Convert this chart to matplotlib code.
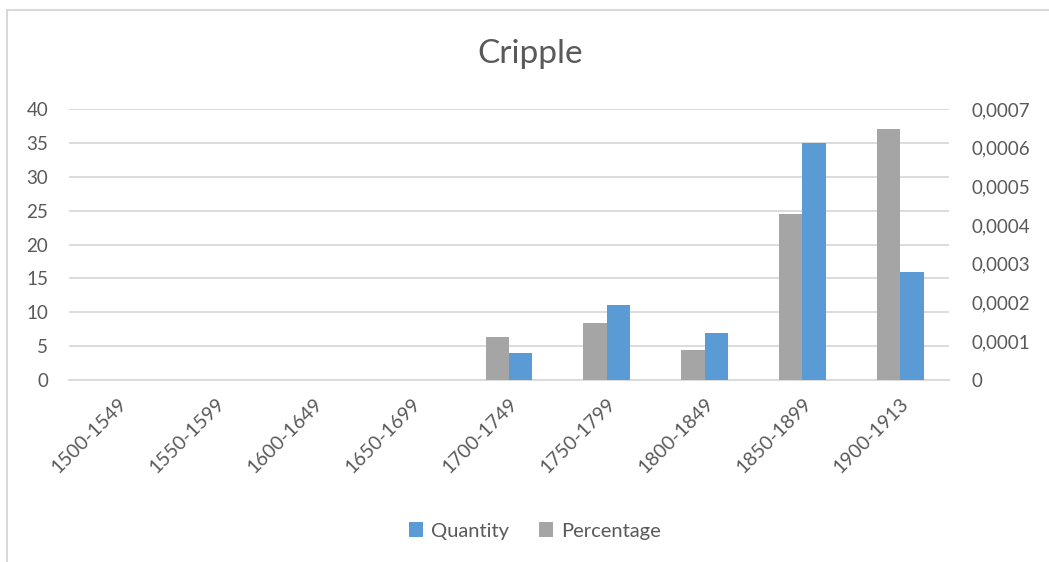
import numpy as np
import matplotlib
matplotlib.use('Agg')
import matplotlib.pyplot as plt
from matplotlib.patches import Rectangle
from matplotlib.ticker import FuncFormatter, MultipleLocator

periods = ['1500-1549', '1550-1599', '1600-1649', '1650-1699', '1700-1749',
           '1750-1799', '1800-1849', '1850-1899', '1900-1913']
quantity = [0, 0, 0, 0, 4, 11, 7, 35, 16]
percentage = [0, 0, 0, 0, 0.000112, 0.000147, 0.0000765, 0.000428, 0.000648]

BLUE = '#5B9BD5'
GREY = '#A5A5A5'
TEXT = '#595959'
GRID = '#D9D9D9'

plt.rcParams['font.family'] = ['Lato', 'DejaVu Sans']

W, H = 1049, 562
fig = plt.figure(figsize=(W / 100, H / 100), dpi=100)

# light chart frame, cut off at right and bottom edges
fig.patches.append(Rectangle((7 / W, -0.1), 1.2, 1 - 10 / H + 0.1,
                             transform=fig.transFigure, fill=False,
                             edgecolor=GRID, linewidth=1.5))

ax = fig.add_axes([69 / W, 1 - 380 / H, 880 / W, 271 / H])
ax2 = ax.twinx()

x = np.arange(len(periods))
bw = 0.24
ax.bar(x + bw / 2, quantity, bw, color=BLUE, label='Quantity', zorder=3)
ax2.bar(x - bw / 2, percentage, bw, color=GREY, label='Percentage', zorder=3)

ax.set_xlim(-0.5, len(periods) - 0.5)
ax.set_ylim(0, 40)
ax.yaxis.set_major_locator(MultipleLocator(5))
ax2.set_ylim(0, 0.0007)
ax2.yaxis.set_major_locator(MultipleLocator(0.0001))
ax2.yaxis.set_major_formatter(FuncFormatter(
    lambda v, p: '0' if abs(v) < 1e-12 else f'{v:.4f}'.replace('.', ',')))

ax.grid(axis='y', color=GRID, linewidth=1.3, zorder=0)
ax.set_axisbelow(True)
for a in (ax, ax2):
    for s in a.spines.values():
        s.set_visible(False)
ax.spines['bottom'].set_visible(True)
ax.spines['bottom'].set_color(GRID)
ax.spines['bottom'].set_linewidth(1.3)

ax.set_xticks(x)
ax.set_xticklabels(periods, rotation=45, ha='right', va='top',
                   rotation_mode='anchor')
ax.tick_params(axis='x', length=0, pad=11, labelsize=14, labelcolor=TEXT)
ax.tick_params(axis='y', length=0, pad=15, labelsize=13.5, labelcolor=TEXT)
ax2.tick_params(axis='y', length=0, pad=16, labelsize=13.5, labelcolor=TEXT)

fig.text(530 / W, 1 - 54 / H, 'Cripple', ha='center', va='center',
         fontsize=24, color=TEXT)

h1, l1 = ax.get_legend_handles_labels()
h2, l2 = ax2.get_legend_handles_labels()
fig.legend(h1 + h2, l1 + l2, loc='center', bbox_to_anchor=(535 / W, 1 - 531 / H),
           ncol=2, frameon=False, fontsize=14.5, labelcolor=TEXT,
           handlelength=0.7, handleheight=0.7, handletextpad=0.4,
           columnspacing=1.5)

fig.savefig('out.png', dpi=100, facecolor='white')
